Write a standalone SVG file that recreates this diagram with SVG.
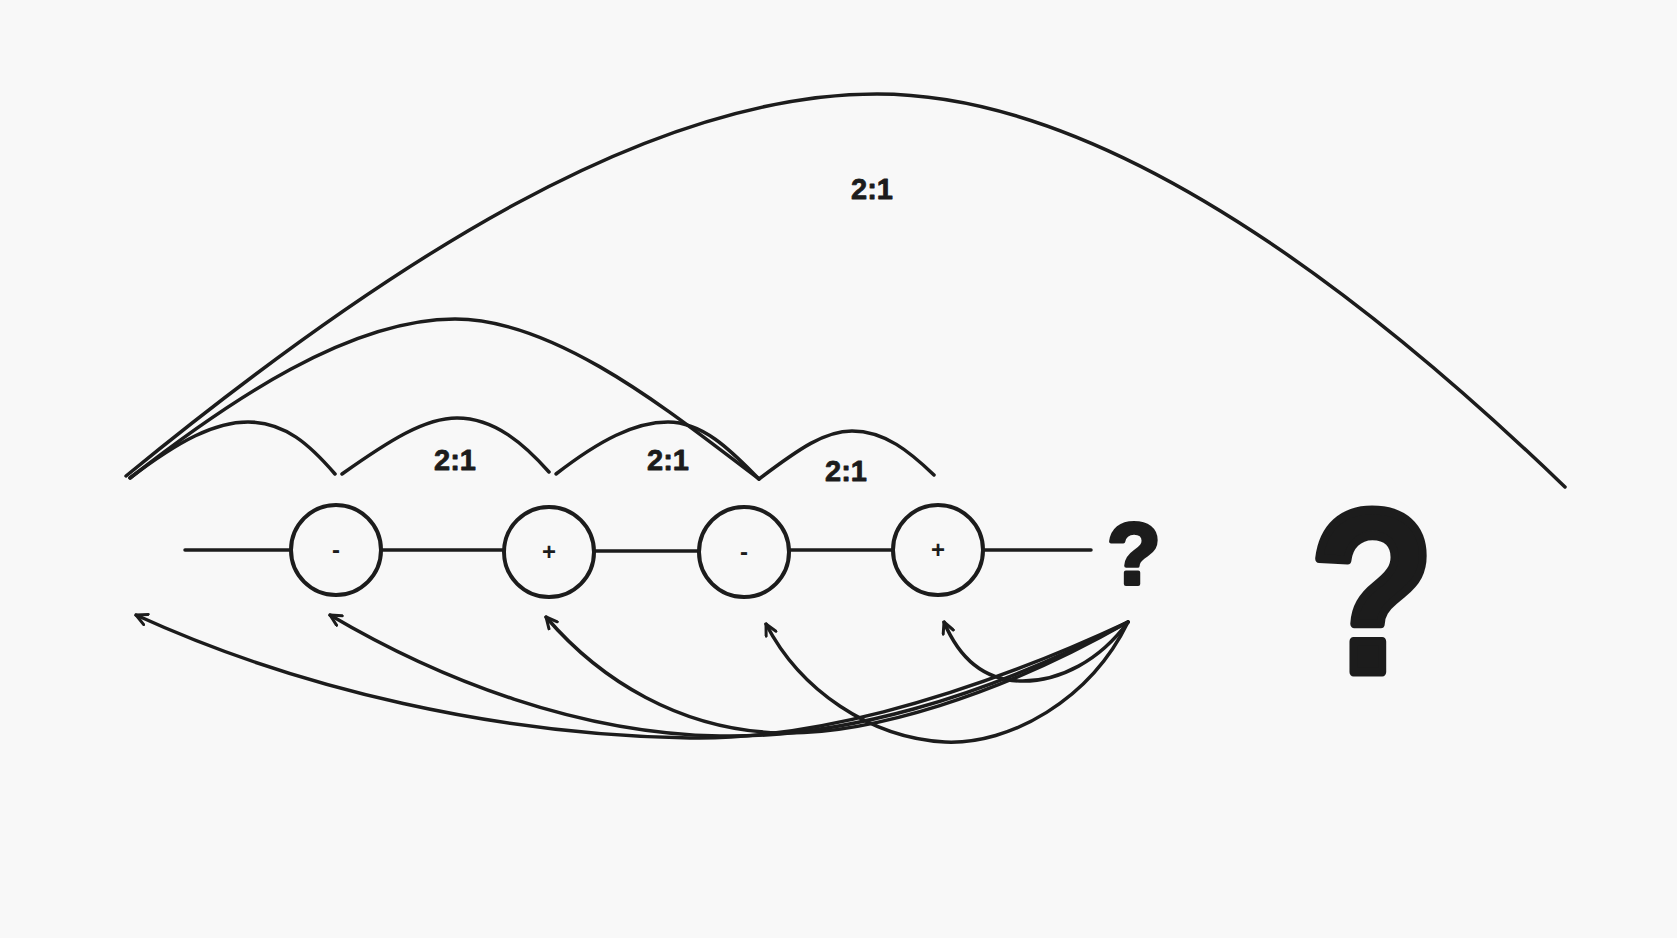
<svg xmlns="http://www.w3.org/2000/svg" width="1677" height="938" viewBox="0 0 1677 938">
<style>
.ln{fill:none;stroke:#1c1c1c;stroke-width:3.5;stroke-linecap:round;stroke-linejoin:round}
.nd{fill:none;stroke:#1c1c1c;stroke-width:4}
.lbl{font-family:"Liberation Sans",Arial,sans-serif;font-weight:bold;font-size:29px;fill:#1c1c1c;text-anchor:middle;stroke:#1c1c1c;stroke-width:0.8;stroke-linejoin:round}
.sg{font-family:"Liberation Sans",Arial,sans-serif;font-weight:bold;font-size:24px;fill:#1c1c1c;text-anchor:middle}
.q{font-family:"Liberation Sans",Arial,sans-serif;font-weight:bold;fill:#1c1c1c;text-anchor:middle;stroke:#1c1c1c;stroke-linejoin:round}
</style>
<defs>
<marker id="ah" viewBox="0 0 14 14" refX="12.5" refY="7" markerWidth="14" markerHeight="14" markerUnits="userSpaceOnUse" orient="auto">
<path d="M1.5,1.5 L12.5,7 L1.5,12.5" fill="none" stroke="#1c1c1c" stroke-width="3" stroke-linecap="round" stroke-linejoin="round"/>
</marker>
</defs>
<rect width="1677" height="938" fill="#f8f8f8"/>
<g id="connectors">
<path class="ln" d="M185,550 L291,550"/>
<path class="ln" d="M381,550 L504,550"/>
<path class="ln" d="M594,551 L699,551"/>
<path class="ln" d="M789,550 L893,550"/>
<path class="ln" d="M983,550 L1091,550"/>
<path class="ln" d="M126,476 C 390,260 650,94 877,94 C 1100,94 1350,280 1565,487"/>
<path class="ln" d="M130,478 C 230,400 350,319 455,319 C 560,319 680,420 759,479"/>
<path class="ln" d="M130,478 C 180,440 215,422 248,422 C 285,422 310,445 335,474"/>
<path class="ln" d="M342,474 C 390,440 425,418 457,418 C 495,418 525,445 549,472"/>
<path class="ln" d="M556,474 C 600,440 635,422 668,422 C 705,422 735,455 759,479"/>
<path class="ln" d="M759,479 C 800,448 825,431 852,431 C 885,431 910,452 934,475"/>
<path class="ln" marker-end="url(#ah)" d="M1128,622 C 950,705 800,740 690,738 C 500,735 300,690 136,615"/>
<path class="ln" marker-end="url(#ah)" d="M1128,622 C 980,700 840,738 720,736 C 580,734 440,680 330,615"/>
<path class="ln" marker-end="url(#ah)" d="M1128,622 C 1000,695 870,735 780,733 C 680,730 600,680 546,617"/>
<path class="ln" marker-end="url(#ah)" d="M1128,622 C 1090,700 1010,745 945,742 C 870,738 800,690 766,624"/>
<path class="ln" marker-end="url(#ah)" d="M1128,622 C 1100,660 1060,682 1020,681 C 985,680 960,660 944,622"/>
</g>
<g id="node1"><circle class="nd" cx="336" cy="550" r="45"/><text class="sg" x="336" y="558">-</text></g>
<g id="node2"><circle class="nd" cx="549" cy="552" r="45"/><text class="sg" x="549" y="560">+</text></g>
<g id="node3"><circle class="nd" cx="744" cy="552" r="45"/><text class="sg" x="744" y="560">-</text></g>
<g id="node4"><circle class="nd" cx="938" cy="550" r="45"/><text class="sg" x="938" y="558">+</text></g>
<g id="labels">
<text class="lbl" x="872" y="199">2:1</text>
<text class="lbl" x="455" y="470">2:1</text>
<text class="lbl" x="668" y="470">2:1</text>
<text class="lbl" x="846" y="481">2:1</text>
</g>
<g id="q-small"><text class="q" x="1134" y="584" font-size="88" stroke-width="4">?</text></g>
<g id="q-big"><text class="q" transform="translate(1372,672) scale(0.88,1)" x="0" y="0" font-size="232" stroke-width="9">?</text></g>
</svg>
